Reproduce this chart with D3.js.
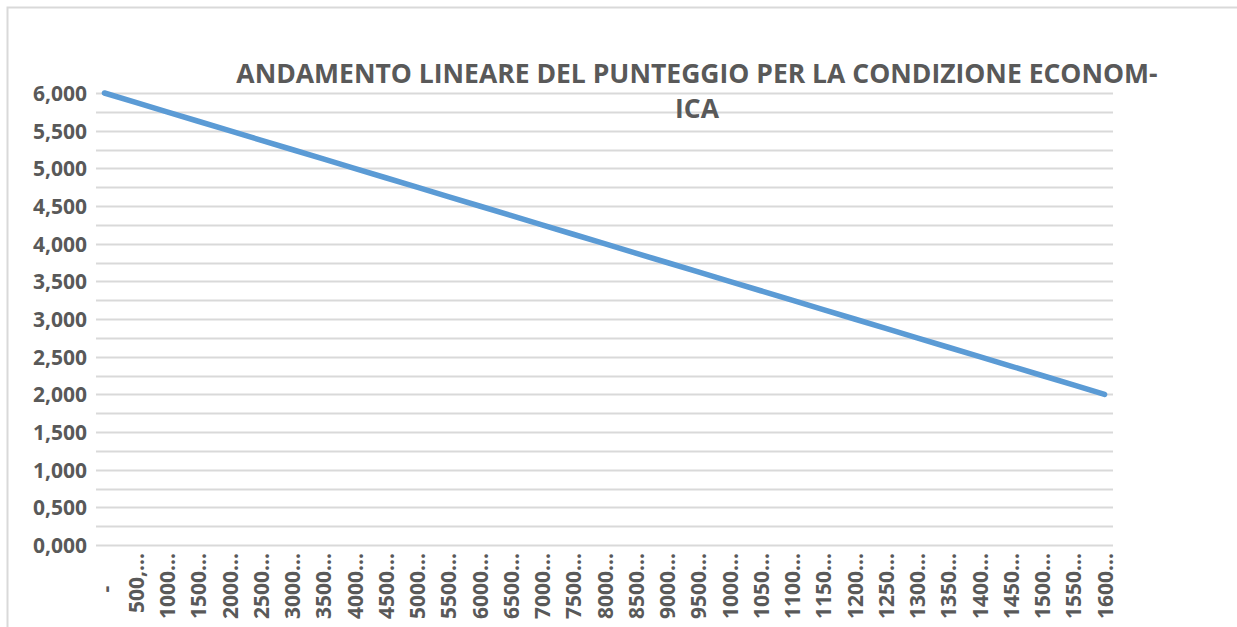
<!DOCTYPE html>
<html>
<head>
<meta charset="utf-8">
<script src="https://cdn.jsdelivr.net/npm/d3@7"></script>
<style>
    html, body { margin: 0; padding: 0; background: #ffffff; }
    svg { display: block; }
</style>
</head>
<body>
<div id="chart"></div>
<script>
// reddito (categorie asse x) e punteggio
const categories = [0, 500, 1000, 1500, 2000, 2500, 3000, 3500, 4000, 4500, 5000, 5500,
    6000, 6500, 7000, 7500, 8000, 8500, 9000, 9500, 10000, 10500, 11000, 11500,
    12000, 12500, 13000, 13500, 14000, 14500, 15000, 15500, 16000];
const tick_labels = [' -      ', '500,...', '1000...', '1500...', '2000...', '2500...', '3000...', '3500...',
    '4000...', '4500...', '5000...', '5500...', '6000...', '6500...', '7000...', '7500...', '8000...',
    '8500...', '9000...', '9500...', '1000...', '1050...', '1100...', '1150...', '1200...', '1250...',
    '1300...', '1350...', '1400...', '1450...', '1500...', '1550...', '1600...'];
const punteggio = [6.000, 5.875, 5.750, 5.625, 5.500, 5.375, 5.250, 5.125, 5.000,
    4.875, 4.750, 4.625, 4.500, 4.375, 4.250, 4.125, 4.000, 3.875, 3.750, 3.625,
    3.500, 3.375, 3.250, 3.125, 3.000, 2.875, 2.750, 2.625, 2.500, 2.375, 2.250,
    2.125, 2.000];
const y_ticks = [0, 0.5, 1, 1.5, 2, 2.5, 3, 3.5, 4, 4.5, 5, 5.5, 6];
const y_grid = [0, 0.25, 0.5, 0.75, 1, 1.25, 1.5, 1.75, 2, 2.25, 2.5, 2.75, 3,
    3.25, 3.5, 3.75, 4, 4.25, 4.5, 4.75, 5, 5.25, 5.5, 5.75, 6];
const title_lines = ['ANDAMENTO LINEARE DEL PUNTEGGIO PER LA CONDIZIONE ECONOM-', 'ICA'];

const width = 1237;
const height = 627;
const margin = { top: 93, right: 124, bottom: 82, left: 96 };
const text_color = '#595959';
const font = "'Open Sans', 'DejaVu Sans', sans-serif";

const svg = d3.select('#chart')
    .append('svg')
    .attr('width', width)
    .attr('height', height);

// bordo dell'area grafico (tagliato a destra e in basso)
svg.append('rect')
    .attr('x', 7.5)
    .attr('y', 7.5)
    .attr('width', width + 20)
    .attr('height', height + 20)
    .attr('fill', 'none')
    .attr('stroke', '#d9d9d9')
    .attr('stroke-width', 2);

const x = d3.scalePoint()
    .domain(categories)
    .range([margin.left, width - margin.right])
    .padding(0.27);

const y = d3.scaleLinear()
    .domain([0, 6])
    .range([height - margin.bottom, margin.top]);

// griglia
svg.append('g')
    .selectAll('line')
    .data(y_grid)
    .enter()
    .append('line')
    .attr('x1', margin.left)
    .attr('x2', width - margin.right)
    .attr('y1', d => Math.round(y(d)) + 0.5)
    .attr('y2', d => Math.round(y(d)) + 0.5)
    .attr('stroke', '#d9d9d9')
    .attr('stroke-width', 2);

// asse y
const y_axis = svg.append('g')
    .attr('transform', `translate(${margin.left - 9}, 0)`)
    .call(d3.axisLeft(y)
        .tickValues(y_ticks)
        .tickSize(0)
        .tickPadding(0)
        .tickFormat(d => d3.format('.3f')(d).replace('.', ',')));

y_axis.select('.domain').remove();
y_axis.selectAll('text')
    .attr('dy', '0.36em')
    .style('fill', text_color)
    .style('font-family', font)
    .style('font-weight', 'bold')
    .style('font-size', '21px');

// asse x
const x_axis = svg.append('g')
    .attr('transform', `translate(0, ${height - margin.bottom})`)
    .call(d3.axisBottom(x)
        .tickSize(0)
        .tickPadding(0)
        .tickFormat((d, i) => tick_labels[i]));

x_axis.select('.domain').remove();
x_axis.selectAll('text')
    .attr('transform', 'rotate(-90)')
    .attr('x', -8)
    .attr('y', 0)
    .attr('dy', '0.36em')
    .style('text-anchor', 'end')
    .style('white-space', 'pre')
    .style('fill', text_color)
    .style('font-family', font)
    .style('font-weight', 'bold')
    .style('font-size', '21px');

// linea
const line = d3.line()
    .x((d, i) => x(categories[i]))
    .y(d => y(d));

svg.append('path')
    .datum(punteggio)
    .attr('d', line)
    .attr('fill', 'none')
    .attr('stroke', '#5b9bd5')
    .attr('stroke-width', 5.5)
    .attr('stroke-linecap', 'round')
    .attr('stroke-linejoin', 'round');

// titolo
svg.append('g')
    .selectAll('text')
    .data(title_lines)
    .enter()
    .append('text')
    .attr('x', 697)
    .attr('y', (d, i) => 83 + i * 35)
    .attr('text-anchor', 'middle')
    .style('fill', text_color)
    .style('font-family', font)
    .style('font-weight', 'bold')
    .style('font-size', '26.5px')
    .text(d => d);
</script>
</body>
</html>
